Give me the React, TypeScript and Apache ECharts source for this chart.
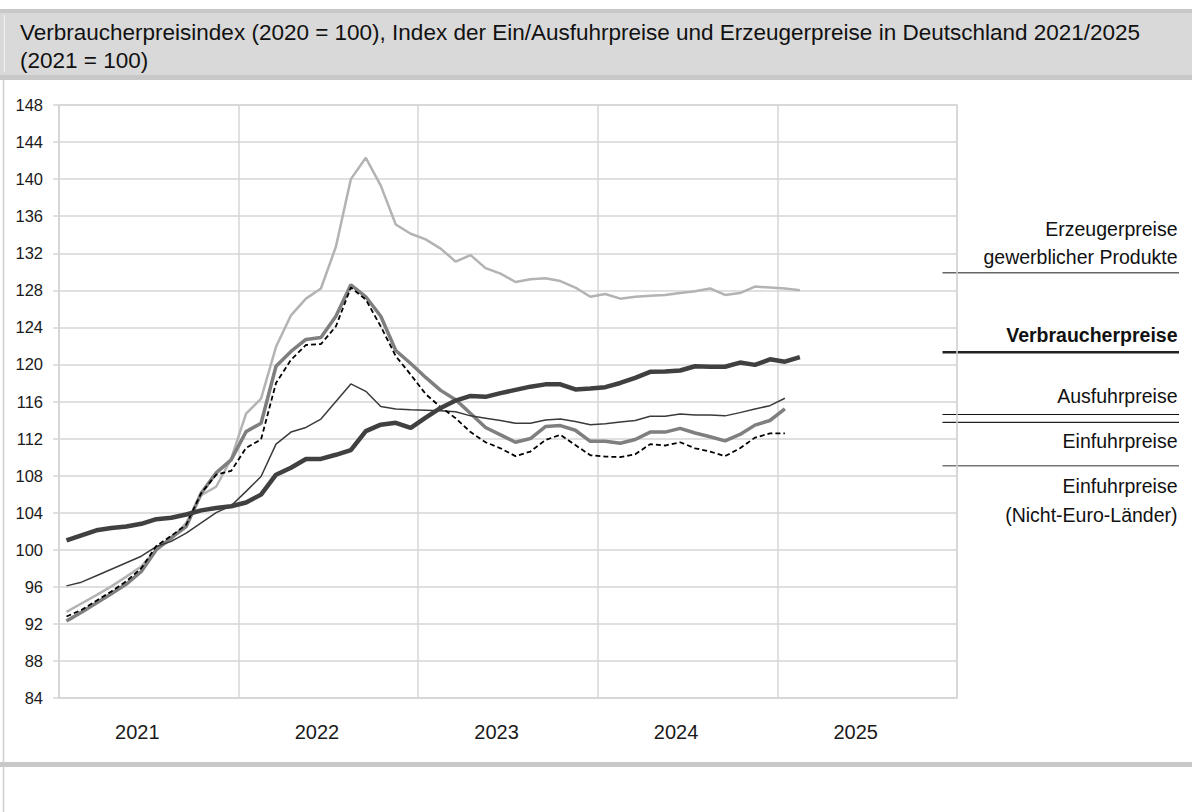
import React, { useEffect, useRef } from "react";
import * as echarts from "echarts";

const years = ["2021", "2022", "2023", "2024", "2025"];
const months = years.flatMap((y) =>
  Array.from({ length: 12 }, (_, m) => `${y}-${String(m + 1).padStart(2, "0")}`)
);

const yTicks = { min: 84, max: 148, interval: 4 };

const erzeuger = [
  93.3, 94.2, 95.1, 96.05, 97.1, 98.2, 100.0, 101.1, 102.9, 105.9, 106.8, 109.8,
  114.7, 116.3, 121.9, 125.3, 127.1, 128.2, 132.7, 140.0, 142.3, 139.3, 135.1, 134.1,
  133.5, 132.5, 131.1, 131.8, 130.4, 129.8, 128.9, 129.2, 129.3, 129.0, 128.3, 127.3,
  127.6, 127.1, 127.3, 127.4, 127.5, 127.7, 127.9, 128.2, 127.5, 127.7, 128.4, 128.3,
  128.2, 128.0,
];

const verbraucher = [
  101.0, 101.55, 102.1, 102.35, 102.5, 102.8, 103.3, 103.45, 103.8, 104.25, 104.5, 104.7,
  105.1, 105.95, 108.1, 108.85, 109.8, 109.8, 110.25, 110.75, 112.8, 113.5, 113.7, 113.15,
  114.25, 115.3, 116.1, 116.6, 116.5, 116.9, 117.25, 117.6, 117.85, 117.85, 117.3, 117.4,
  117.55, 118.0, 118.55, 119.2, 119.25, 119.35, 119.8, 119.75, 119.75, 120.2, 119.95, 120.55,
  120.3, 120.8,
];

const ausfuhr = [
  96.1, 96.5, 97.2, 97.9, 98.6, 99.3, 100.35, 100.9, 101.8, 102.9, 104.0, 104.75,
  106.3, 107.9, 111.4, 112.7, 113.2, 114.1, 116.0, 117.9, 117.1, 115.45, 115.2, 115.1,
  115.05, 115.0, 114.9, 114.45, 114.2, 113.95, 113.65, 113.65, 114.0, 114.1, 113.85, 113.5,
  113.6, 113.8, 113.95, 114.4, 114.4, 114.65, 114.55, 114.55, 114.45, 114.8, 115.2, 115.55,
  116.35,
];

const einfuhr = [
  92.3, 93.25, 94.25, 95.25, 96.3, 97.65, 100.0, 101.3, 102.5, 106.1, 108.3, 109.7,
  112.75, 113.65, 119.8, 121.4, 122.7, 122.9, 125.2, 128.6, 127.3, 125.2, 121.5, 120.1,
  118.6, 117.2, 116.2, 114.7, 113.2, 112.4, 111.6, 112.0, 113.3, 113.4, 112.9, 111.7,
  111.7, 111.5, 111.9, 112.7, 112.7, 113.1, 112.6, 112.2, 111.75, 112.45, 113.45, 113.95,
  115.2,
];

const einfuhrNichtEuro = [
  92.8, 93.5, 94.5, 95.5, 96.6, 98.0, 100.4, 101.5, 102.7, 106.1, 108.1, 108.5,
  111.0, 111.9, 118.0, 120.5, 122.1, 122.2, 124.1, 128.3, 127.0, 124.1, 120.9, 118.9,
  116.8, 115.4, 114.2, 112.7, 111.6, 110.95, 110.1, 110.6, 111.85, 112.4, 111.3, 110.2,
  110.05, 110.0, 110.3, 111.4, 111.25, 111.6, 110.95, 110.6, 110.1, 110.95, 112.1, 112.55,
  112.55,
];

const titleLines = [
  "Verbraucherpreisindex (2020 = 100), Index der Ein/Ausfuhrpreise und Erzeugerpreise in Deutschland 2021/2025",
  "(2021 = 100)",
];

const SANS = "'Liberation Sans', Arial, sans-serif";
const GRID = "#d6d6d6";

export default function App() {
  const ref = useRef<HTMLDivElement>(null);

  useEffect(() => {
    if (!ref.current) return;
    const chart = echarts.init(ref.current, undefined, { renderer: "svg" });

    const label = (text: string, y: number, bold = false) => ({
      type: "text",
      x: 1177.5,
      y,
      style: {
        text,
        fill: "#111",
        font: `${bold ? "bold " : ""}19.5px ${SANS}`,
        textAlign: "right",
        textVerticalAlign: "middle",
      },
    });
    const sep = (y: number, color: string, w: number) => ({
      type: "line",
      shape: { x1: 942.5, y1: y, x2: 1179, y2: y },
      style: { stroke: color, lineWidth: w },
    });

    chart.setOption({
      animation: false,
      backgroundColor: "#ffffff",
      grid: {
        left: 59,
        top: 105,
        width: 898,
        height: 593,
        show: true,
        borderColor: GRID,
        borderWidth: 1.5,
        containLabel: false,
      },
      xAxis: {
        type: "category",
        data: months,
        boundaryGap: true,
        axisLine: { show: true, lineStyle: { color: GRID, width: 1.5 } },
        axisTick: { show: false },
        axisLabel: {
          interval: (idx: number) => idx % 12 === 5,
          formatter: (v: string) => v.slice(0, 4),
          fontSize: 20,
          fontFamily: SANS,
          color: "#1a1a1a",
          margin: 34,
          verticalAlign: "middle",
          padding: [0, 8, 0, 0],
        },
        splitLine: {
          show: true,
          interval: (idx: number) => idx % 12 === 0,
          lineStyle: { color: GRID, width: 1.5 },
        },
      },
      yAxis: {
        type: "value",
        min: yTicks.min,
        max: yTicks.max,
        interval: yTicks.interval,
        axisLine: { show: true, lineStyle: { color: GRID, width: 1.5 } },
        axisTick: { show: true, length: 6, lineStyle: { color: GRID, width: 1.5 } },
        axisLabel: {
          fontSize: 16.5,
          fontFamily: SANS,
          color: "#1a1a1a",
          margin: 16,
        },
        splitLine: { show: true, lineStyle: { color: GRID, width: 1.5 } },
      },
      series: [
        {
          name: "Erzeugerpreise gewerblicher Produkte",
          type: "line",
          data: erzeuger,
          symbol: "none",
          lineStyle: { color: "#b3b3b3", width: 2.5 },
          z: 2,
        },
        {
          name: "Einfuhrpreise",
          type: "line",
          data: einfuhr,
          symbol: "none",
          lineStyle: { color: "#7f7f7f", width: 3.5 },
          z: 3,
        },
        {
          name: "Ausfuhrpreise",
          type: "line",
          data: ausfuhr,
          symbol: "none",
          lineStyle: { color: "#3a3a3a", width: 1.5 },
          z: 4,
        },
        {
          name: "Einfuhrpreise (Nicht-Euro-Länder)",
          type: "line",
          data: einfuhrNichtEuro,
          symbol: "none",
          lineStyle: { color: "#000000", width: 1.8, type: [5, 3] },
          z: 5,
        },
        {
          name: "Verbraucherpreise",
          type: "line",
          data: verbraucher,
          symbol: "none",
          lineStyle: { color: "#404040", width: 4.5 },
          z: 6,
        },
      ],
      graphic: [
        { type: "rect", shape: { x: 0, y: 9, width: 1192, height: 4 }, style: { fill: "#c8c8c8" }, silent: true },
        { type: "rect", shape: { x: 0, y: 13, width: 1192, height: 62 }, style: { fill: "#d9d9d9" }, silent: true },
        { type: "rect", shape: { x: 0, y: 75, width: 1192, height: 5 }, style: { fill: "#c8c8c8" }, silent: true },
        { type: "line", shape: { x1: 4.5, y1: 15, x2: 4.5, y2: 72 }, style: { stroke: "#f2f2f2", lineWidth: 1 }, silent: true },
        { type: "line", shape: { x1: 3.5, y1: 80, x2: 3.5, y2: 812 }, style: { stroke: "#d0d0d0", lineWidth: 1.5 }, silent: true },
        { type: "rect", shape: { x: 0, y: 762, width: 1192, height: 5 }, style: { fill: "#c8c8c8" }, silent: true },
        {
          type: "text",
          x: 20,
          y: 32,
          style: { text: titleLines[0], fill: "#111", font: `22.5px ${SANS}`, textAlign: "left", textVerticalAlign: "middle" },
        },
        {
          type: "text",
          x: 20,
          y: 60,
          style: { text: titleLines[1], fill: "#111", font: `22.5px ${SANS}`, textAlign: "left", textVerticalAlign: "middle" },
        },
        label("Erzeugerpreise", 229),
        label("gewerblicher Produkte", 256.5),
        sep(272.7, "#666666", 1.5),
        label("Verbraucherpreise", 335, true),
        sep(352.3, "#222222", 2.5),
        label("Ausfuhrpreise", 396),
        sep(414.5, "#111111", 1.2),
        sep(422.3, "#222222", 1.2),
        label("Einfuhrpreise", 441),
        sep(465.7, "#777777", 1.5),
        label("Einfuhrpreise", 485.5),
        label("(Nicht-Euro-Länder)", 515),
      ],
    });

    return () => chart.dispose();
  }, []);

  return (
    <div
      ref={ref}
      style={{ position: "absolute", left: 0, top: 0, width: 1192, height: 812 }}
    />
  );
}
